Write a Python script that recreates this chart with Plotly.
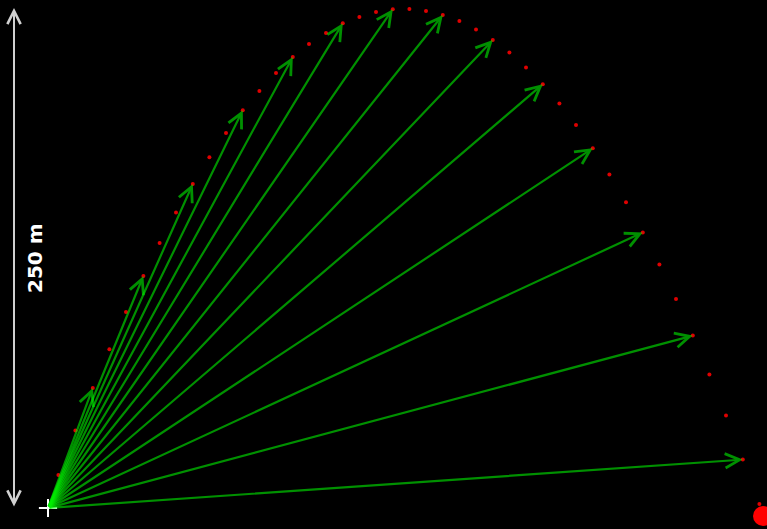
import plotly.graph_objects as go

# Trajectory positions (metres)
x_pos = [5.2, 13.7, 22.4, 30.7, 39.0, 47.7, 55.8, 64.0, 72.4, 80.7, 89.0,
         97.4, 105.7, 114.0, 122.4, 130.5, 139.0, 147.4, 155.7, 164.0, 172.4,
         180.7, 189.0, 197.4, 205.7, 214.0, 222.4, 230.7, 239.0, 247.4, 255.7,
         264.0, 272.4, 280.7, 289.0, 297.4, 305.7, 314.0, 322.4, 330.7, 339.0,
         347.4, 355.7]
y_pos = [16.5, 38.7, 60.0, 79.4, 98.0, 116.0, 132.5, 147.7, 162.0, 175.4, 187.5,
         198.9, 208.5, 217.5, 225.5, 232.0, 237.5, 242.4, 245.5, 248.0, 249.4,
         249.5, 248.5, 246.5, 243.5, 239.2, 234.0, 227.7, 220.2, 211.9, 202.2,
         191.5, 179.9, 166.7, 152.9, 137.8, 121.7, 104.5, 86.2, 66.7, 46.2,
         24.2, 2.0]
arrow_every = 3          # a position vector is drawn every third sample
origin = (0.0, 0.0)
ball = (357.5, -4.0)     # projectile
scale_len = 250          # scale bar length in metres
scale_label = "250 m"

fig = go.Figure()

fig.add_trace(go.Scatter(x=x_pos, y=y_pos, mode="markers",
                         marker=dict(color="#e00000", size=4), hoverinfo="skip"))
fig.add_trace(go.Scatter(x=[ball[0]], y=[ball[1]], mode="markers", cliponaxis=False,
                         marker=dict(color="#ff0000", size=20), hoverinfo="skip"))
fig.add_trace(go.Scatter(x=[origin[0]], y=[origin[1]], mode="markers",
                         marker=dict(symbol="cross-thin", size=13,
                                     line=dict(color="white", width=2)),
                         hoverinfo="skip"))

annotations = []
for i in range(arrow_every - 1, len(x_pos), arrow_every):
    annotations.append(dict(
        x=x_pos[i], y=y_pos[i], ax=origin[0], ay=origin[1],
        xref="x", yref="y", axref="x", ayref="y", text="",
        showarrow=True, arrowhead=5, arrowsize=1.3, arrowwidth=2.2,
        arrowcolor="rgba(0,240,0,0.6)"))

# scale bar
annotations.append(dict(
    x=-17, y=scale_len, ax=-17, ay=0,
    xref="x", yref="y", axref="x", ayref="y", text="",
    showarrow=True, arrowside="end+start", arrowhead=5, startarrowhead=5,
    arrowsize=1.3, startarrowsize=1.3, arrowwidth=2, arrowcolor="#d0d0d0"))
annotations.append(dict(
    x=-6.5, y=scale_len / 2, xref="x", yref="y", text="<b>" + scale_label + "</b>",
    showarrow=False, textangle=-90,
    font=dict(family="DejaVu Sans", size=20, color="white")))

fig.update_layout(
    width=767, height=529,
    margin=dict(l=0, r=0, t=0, b=0),
    paper_bgcolor="black", plot_bgcolor="black",
    showlegend=False,
    annotations=annotations,
    xaxis=dict(range=[-24, 359.5], visible=False, showgrid=False, zeroline=False),
    yaxis=dict(range=[-10.5, 254], visible=False, showgrid=False, zeroline=False),
)

fig.write_html("out.html",
               config={"displayModeBar": False},
               post_script="document.body.style.margin='0';"
                           "document.body.style.background='black';")
